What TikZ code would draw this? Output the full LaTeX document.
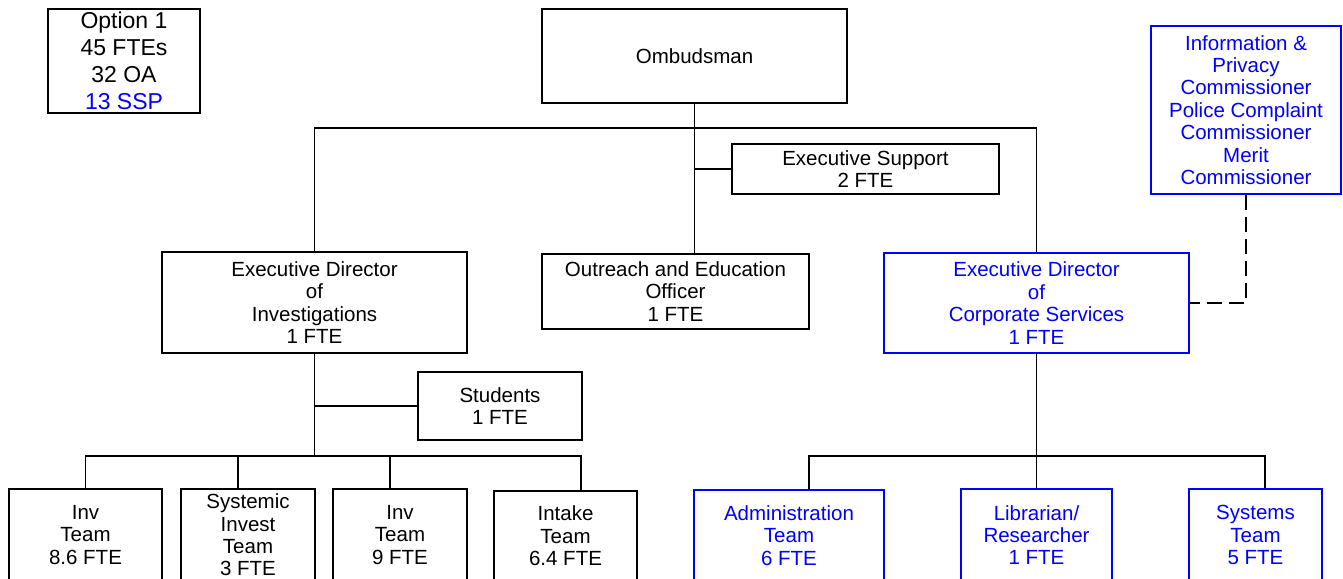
\documentclass[tikz,border=0pt]{standalone}
\usepackage{fontspec}
\setmainfont{Liberation Sans}
\usepackage{tikz}
\usetikzlibrary{calc}

\definecolor{ombblue}{RGB}{0,0,255}
\newcommand{\boxfont}{\fontsize{20.5}{22.4}\selectfont}
\newcommand{\optfont}{\fontsize{23}{27}\selectfont}

\tikzset{
  unitbox/.style={draw, line width=2pt, align=center, inner sep=0pt, font=\boxfont},
  bluebox/.style={unitbox, draw=ombblue, text=ombblue},
  link/.style={line width=1.1pt},
  dashlink/.style={line width=2pt, dash pattern=on 15pt off 7pt}
}

\begin{document}
\begin{tikzpicture}[x=1pt, y=-1pt]
    \clip (0,0) rectangle (1343,578);
    \fill[white] (0,0) rectangle (1343,578);

    % Top row
    \node (opt) [unitbox, font=\optfont, minimum width=152pt, minimum height=104pt] at (124,61)
        {Option 1\\45 FTEs\\32 OA\\\textcolor{ombblue}{13 SSP}};
    \node (omb) [unitbox, minimum width=305pt, minimum height=94pt] at (694.5,56) {Ombudsman};
    \node (info) [bluebox, minimum width=190pt, minimum height=168pt] at (1246,110)
        {Information \&\\Privacy\\Commissioner\\Police Complaint\\Commissioner\\Merit\\Commissioner};
    \node (exsup) [unitbox, minimum width=267pt, minimum height=50pt] at (865.5,169)
        {Executive Support\\2 FTE};

    % Directors
    \node (edinv) [unitbox, minimum width=305pt, minimum height=101pt] at (314.5,302.5)
        {Executive Director\\of\\Investigations\\1 FTE};
    \node (outreach) [unitbox, minimum width=267pt, minimum height=75pt] at (675.5,291.5)
        {Outreach and Education\\Officer\\1 FTE};
    \node (edcorp) [bluebox, minimum width=305pt, minimum height=100pt] at (1036.5,303)
        {Executive Director\\of\\Corporate Services\\1 FTE};
    \node (students) [unitbox, minimum width=164pt, minimum height=68pt] at (500,406)
        {Students\\1 FTE};

    % Teams
    \node (invA) [unitbox, minimum width=153pt, minimum height=92pt] at (85.5,535) {Inv\\Team\\8.6 FTE};
    \node (sysinv) [unitbox, minimum width=134pt, minimum height=92pt] at (248,535) {Systemic\\Invest\\Team\\3 FTE};
    \node (invB) [unitbox, minimum width=134pt, minimum height=92pt] at (400,535) {Inv\\Team\\9 FTE};
    \node (intake) [unitbox, minimum width=143pt, minimum height=90pt] at (565.5,536) {Intake\\Team\\6.4 FTE};
    \node (admin) [bluebox, minimum width=190pt, minimum height=91pt] at (789,535.5) {Administration\\Team\\6 FTE};
    \node (lib) [bluebox, minimum width=151pt, minimum height=92pt] at (1036.5,535) {Librarian/\\Researcher\\1 FTE};
    \node (systems) [bluebox, minimum width=133pt, minimum height=92pt] at (1255.5,535) {Systems\\Team\\5 FTE};

    % Connectors
    \coordinate (topbus) at (694,128);
    \coordinate (invbus) at (314.5,456);
    \coordinate (corpbus) at (1036.5,456);

    \draw[link] (omb.south) -- (omb.south |- outreach.north);
    \draw[link] (edinv.north) |- (topbus) -| (edcorp.north);
    \draw[link] (exsup.west) -- (exsup.west -| omb.south);
    \draw[link] (students.west) -- (students.west -| edinv.south);

    \draw[link] (edinv.south) -- (invbus);
    \draw[link] (invA.north) |- (invbus) -| ([xshift=15.5pt]intake.north);
    \foreach \n in {sysinv, invB}
        \draw[link] ([xshift=-10pt]\n.north) -- ([xshift=-10pt]\n.north |- invbus);

    \draw[link] (edcorp.south) -- (lib.north);
    \draw[link] ([xshift=20pt]admin.north) |- (corpbus) -| ([xshift=9.5pt]systems.north);

    \draw[dashlink] (info.south) |- (edcorp.east);

\end{tikzpicture}
\end{document}
